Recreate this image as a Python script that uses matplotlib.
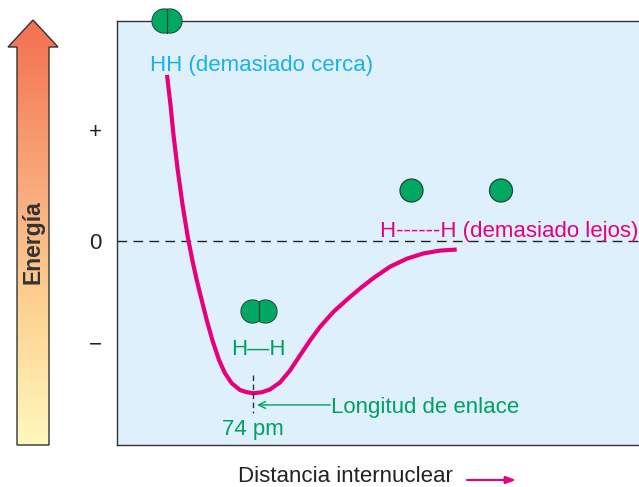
import matplotlib
matplotlib.use('Agg')
import matplotlib.pyplot as plt
import numpy as np
from matplotlib.patches import Polygon, Circle
from matplotlib.colors import LinearSegmentedColormap

plt.rcParams['font.family'] = ['Liberation Sans', 'DejaVu Sans']

# Curva de energía potencial (distancia en pm, energía en unidades arbitrarias)
dist_pm = [27.20, 29.00, 30.85, 33.03, 35.53, 38.47, 40.97, 43.36, 46.08, 48.80,
           51.85, 55.49, 58.76, 62.40, 66.92, 70.18, 74.00, 78.89, 83.24, 88.68,
           94.12, 99.56, 105.00, 110.45, 117.68, 125.84, 132.21, 139.45, 148.53,
           157.62, 166.65, 175.73, 184.82]
energy = [1.566, 1.299, 0.984, 0.670, 0.356, 0.041, -0.179, -0.368, -0.557, -0.745,
          -0.934, -1.123, -1.248, -1.342, -1.406, -1.425, -1.437, -1.427, -1.401, -1.335,
          -1.222, -1.080, -0.939, -0.811, -0.670, -0.542, -0.449, -0.351, -0.243,
          -0.168, -0.118, -0.091, -0.081]
energy_ticks = [1.047, 0.0, -0.962]
energy_tick_labels = ['+', '0', '\u2212']
bond_length_pm = 74

MAGENTA = '#e6007e'
GREEN = '#00a05e'
CYAN = '#1ab0ea'
ATOM = '#00a862'
ATOM_EDGE = '#23453a'
FS = 16

fig = plt.figure(figsize=(6.39, 4.87), dpi=100)
ax = fig.add_axes([117 / 639, 42 / 487, 522 / 639, 424 / 487])
ax.set_facecolor('#def0fb')
ax.set_xlim(0, 284)
ax.set_ylim(-1.925, 2.075)

ax.plot(dist_pm, energy, color=MAGENTA, lw=3, solid_capstyle='butt',
        solid_joinstyle='round', zorder=3)
ax.axhline(0, color='#222222', lw=1.0, dashes=(7, 4.5), zorder=2)

# marca de la longitud de enlace
e_min = min(energy)
ax.plot([bond_length_pm, bond_length_pm], [e_min + 0.17, e_min - 0.19],
        color='#333333', lw=1, dashes=(4, 2.5), zorder=4)
ax.annotate('', xy=(bond_length_pm + 2.2, -1.547), xytext=(bond_length_pm + 42, -1.547),
            arrowprops=dict(arrowstyle='->,head_length=0.5,head_width=0.25',
                            color=GREEN, lw=1, shrinkA=0, shrinkB=0))
ax.text(bond_length_pm + 42.4, -1.623, 'Longitud de enlace', color=GREEN,
        fontsize=FS, ha='left', va='baseline')
ax.text(bond_length_pm, -1.83, f'{bond_length_pm} pm', color=GREEN,
        fontsize=FS, ha='center', va='baseline')
ax.text(76.7, -1.075, 'H\u2014H', color=GREEN, fontsize=FS, ha='center', va='baseline')
ax.text(18, 1.604, 'HH (demasiado cerca)', color=CYAN, fontsize=FS, ha='left', va='baseline')
ax.text(143, 0.038, 'H------H (demasiado lejos)', color=MAGENTA, fontsize=FS,
        ha='left', va='baseline')

for side in ['top', 'left', 'bottom']:
    ax.spines[side].set_color('#333333')
    ax.spines[side].set_linewidth(1.0)
ax.spines['right'].set_visible(False)
ax.set_xticks([])
ax.set_yticks(energy_ticks, energy_tick_labels, fontsize=FS)
ax.tick_params(axis='y', length=0, pad=11, labelcolor='#222222')
ax.set_xlabel('Distancia internuclear', fontsize=FS, color='#222222', va='baseline')
ax.xaxis.set_label_coords(0.437, -0.088)

# capa decorativa en píxeles
deco = fig.add_axes([0, 0, 1, 1], zorder=5)

# flecha de energía con degradado
cmap = LinearSegmentedColormap.from_list(
    'energia', [(0, '#fff8be'), (0.3, '#fdd594'), (0.55, '#f9b283'),
                (0.8, '#f68e66'), (1, '#f36f50')])
grad = np.linspace(0, 1, 256).reshape(-1, 1)
arrow_pts = [(17, 445), (49, 445), (49, 47), (58, 47), (33, 20), (8, 47), (17, 47)]
poly = Polygon(arrow_pts, closed=True, facecolor='none', edgecolor='#333333', lw=1, zorder=3)
im = deco.imshow(grad, extent=(8, 58, 445, 20), origin='lower', cmap=cmap,
                 aspect='auto', zorder=2)
deco.add_patch(poly)
im.set_clip_path(poly)
deco.text(33, 242, 'Energía', rotation=90, ha='center', va='center', fontsize=16.5,
          fontweight='bold', color='#333333')


def molecule(cx, cy, r, d):
    h = np.sqrt(r ** 2 - (d / 2) ** 2)
    for x in (cx - d / 2, cx + d / 2):
        deco.add_patch(Circle((x, cy), r, facecolor=ATOM, edgecolor=ATOM_EDGE, lw=0.9, zorder=3))
    for x in (cx - d / 2, cx + d / 2):
        deco.add_patch(Circle((x, cy), r - 0.4, facecolor=ATOM, edgecolor='none', zorder=4))
    deco.plot([cx, cx], [cy - h, cy + h], color=ATOM_EDGE, lw=0.9, zorder=5)


def atom(cx, cy, r):
    deco.add_patch(Circle((cx, cy), r, facecolor=ATOM, edgecolor=ATOM_EDGE, lw=0.9, zorder=3))


molecule(167, 21, 12, 6)
molecule(259, 311.5, 11.5, 13)
atom(411.5, 190.5, 11.5)
atom(501, 190.5, 11.5)

deco.annotate('', xy=(516, 480), xytext=(467, 480),
              arrowprops=dict(arrowstyle='-|>,head_length=0.6,head_width=0.22',
                              color=MAGENTA, lw=1.5, shrinkA=0, shrinkB=0))

deco.set_xlim(0, 639)
deco.set_ylim(487, 0)
deco.axis('off')

fig.savefig('out.png', dpi=100)
